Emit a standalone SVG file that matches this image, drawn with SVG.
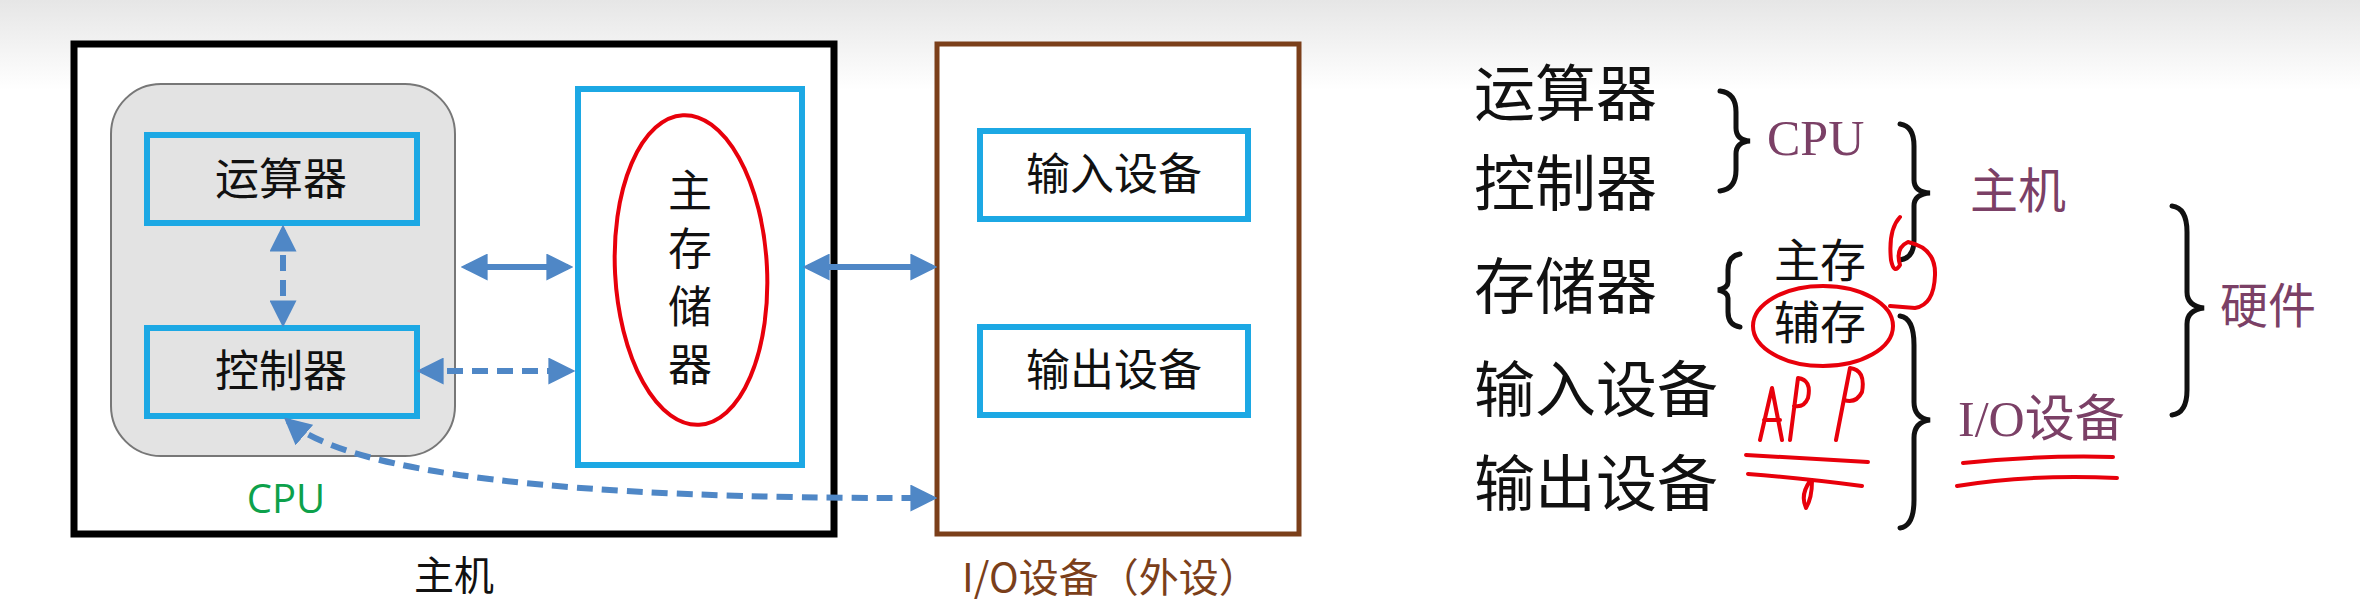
<svg xmlns="http://www.w3.org/2000/svg" width="2360" height="600" viewBox="0 0 2360 600">
<defs>
<linearGradient id="bg" x1="0" y1="0" x2="0" y2="1"><stop offset="0" stop-color="#e6e6e6"/><stop offset="0.15" stop-color="#ffffff"/><stop offset="1" stop-color="#ffffff"/></linearGradient>
<marker id="ah" viewBox="0 0 10 10" refX="8" refY="5" markerWidth="4.5" markerHeight="4.5" orient="auto-start-reverse"><path d="M0,0 L10,5 L0,10 z" fill="#4F87C6"/></marker>
<style>
.blue{fill:none;stroke:#1CA8E4;stroke-width:6}
.t{font-family:"Noto Sans CJK SC","Liberation Sans",sans-serif;fill:#111}
.s{font-family:"Liberation Serif","Noto Sans CJK SC",serif;fill:#7B4066}
.c{fill:none;stroke:#4F87C6;stroke-width:6}
.d{stroke-dasharray:16 9}
.br{fill:none;stroke:#111;stroke-width:5;stroke-linecap:round}
.red{fill:none;stroke:#E8000B;stroke-width:4;stroke-linecap:round;stroke-linejoin:round}
</style>
</defs>
<rect width="2360" height="600" fill="url(#bg)"/>
<g id="host"><rect x="74" y="44" width="760" height="490" fill="#fff" stroke="#000" stroke-width="7"/><text class="t" x="454" y="590" font-size="40" text-anchor="middle">主机</text></g>
<g id="cpu"><rect x="111" y="84" width="344" height="372" rx="50" fill="#e3e3e3" stroke="#777" stroke-width="2"/><text x="286" y="513" font-family="'Open Sans','Liberation Sans',sans-serif" font-size="40" fill="#0DA14B" text-anchor="middle">CPU</text></g>
<g id="alu"><rect class="blue" x="147" y="135" width="270" height="88"/><text class="t" x="281" y="195" font-size="44" text-anchor="middle">运算器</text></g>
<g id="cu"><rect class="blue" x="147" y="328" width="270" height="88"/><text class="t" x="281" y="387" font-size="44" text-anchor="middle">控制器</text></g>
<g id="mem"><rect class="blue" x="578" y="89" width="224" height="376"/>
<text class="t" font-size="44" text-anchor="middle"><tspan x="690" y="207">主</tspan><tspan x="690" y="265">存</tspan><tspan x="690" y="323">储</tspan><tspan x="690" y="381">器</tspan></text></g>
<g id="io"><rect x="937" y="44" width="362" height="490" fill="#fff" stroke="#7B3F1A" stroke-width="5"/>
<text x="962" y="592" font-family="'Noto Sans CJK SC',sans-serif" font-size="40" fill="#7B3F1A">I/O设备（外设）</text></g>
<g id="in"><rect class="blue" x="980" y="131" width="268" height="88"/><text class="t" x="1114" y="190" font-size="44" text-anchor="middle">输入设备</text></g>
<g id="out"><rect class="blue" x="980" y="327" width="268" height="88"/><text class="t" x="1114" y="386" font-size="44" text-anchor="middle">输出设备</text></g>
<g id="connectors">
<line class="c" x1="466" y1="267" x2="568" y2="267" marker-start="url(#ah)" marker-end="url(#ah)"/>
<line class="c" x1="808" y1="267" x2="932" y2="267" marker-start="url(#ah)" marker-end="url(#ah)"/>
<line class="c d" x1="283" y1="230" x2="283" y2="322" marker-start="url(#ah)" marker-end="url(#ah)"/>
<line class="c d" x1="422" y1="371" x2="570" y2="371" marker-start="url(#ah)" marker-end="url(#ah)"/>
<path class="c d" d="M288,421 Q380,500 932,498" marker-start="url(#ah)" marker-end="url(#ah)"/>
</g>
<ellipse class="red" cx="691" cy="270" rx="76" ry="155" transform="rotate(-3 691 270)"/>
<g id="right">
<text class="t" font-size="61"><tspan x="1474" y="116">运算器</tspan><tspan x="1474" y="206">控制器</tspan><tspan x="1474" y="309">存储器</tspan><tspan x="1474" y="412">输入设备</tspan><tspan x="1474" y="506">输出设备</tspan></text>
<text class="t" font-size="46"><tspan x="1774" y="277">主存</tspan><tspan x="1774" y="339">辅存</tspan></text>
<text class="s" font-size="50" x="1767" y="155">CPU</text>
<text class="s" font-size="48" x="1970" y="208">主机</text>
<text class="s" font-size="50" x="1958" y="436">I/O设备</text>
<text class="s" font-size="48" x="2220" y="323">硬件</text>
<path class="br" d="M1720,91 Q1736,93 1736,112 L1736,128 Q1736,140 1750,141 Q1736,142 1736,154 L1736,170 Q1736,189 1720,191"/>
<path class="br" d="M1900,124 Q1914,126 1914,146 L1914,180 Q1914,192 1930,193 Q1914,194 1914,206 L1914,240 Q1914,258 1900,260"/>
<path class="br" d="M1740,254 Q1728,256 1728,270 L1728,282 Q1728,288 1718,290 Q1728,292 1728,298 L1728,312 Q1728,325 1740,327"/>
<path class="br" d="M1900,316 Q1914,318 1914,345 L1914,402 Q1914,418 1930,420 Q1914,422 1914,438 L1914,500 Q1914,526 1900,528"/>
<path class="br" d="M2172,206 Q2187,208 2187,232 L2187,292 Q2187,306 2204,308 Q2187,310 2187,324 L2187,390 Q2187,413 2172,415"/>
</g>
<g id="annot">
<ellipse class="red" cx="1823" cy="326" rx="70" ry="40"/>
<path class="red" d="M1900,217 Q1888,230 1891,260 Q1894,275 1900,265 Q1895,248 1908,242 Q1936,248 1935,275 Q1934,305 1915,308 L1890,306"/>
<path class="red" d="M1760,440 L1772,388 L1782,440 M1764,420 L1780,420 M1790,440 L1798,378 Q1812,380 1808,398 Q1804,408 1794,406 M1836,440 L1850,368 Q1866,370 1862,392 Q1856,404 1844,400"/>
<path class="red" d="M1746,455 Q1800,458 1868,462 M1748,474 Q1800,478 1862,486 M1810,481 Q1800,495 1806,508 Q1812,498 1812,481"/>
<path class="red" d="M1963,463 Q2040,455 2113,457 M1957,486 Q2030,474 2117,478" stroke-width="6"/>
</g>
</svg>
